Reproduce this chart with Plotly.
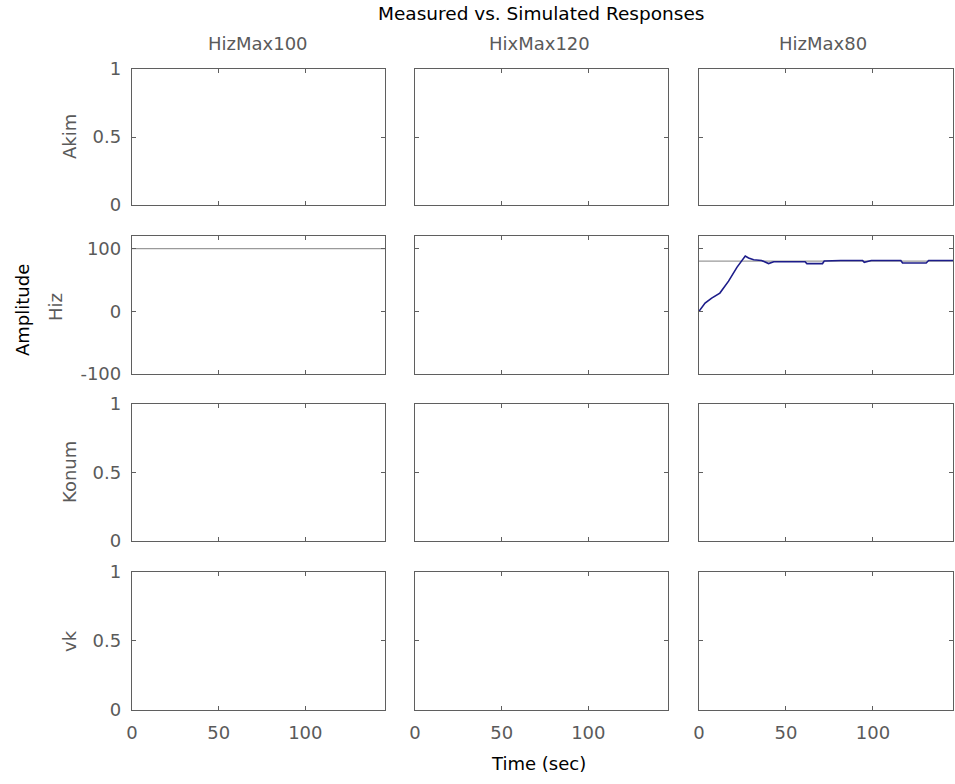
import plotly.graph_objects as go

# ---- data ----
col_titles = ["HizMax100", "HixMax120", "HizMax80"]
row_labels = ["Akim", "Hiz", "Konum", "vk"]
x_ticks = [0, 50, 100]
x_tick_text = ["0", "50", "100"]
x_range = [0, 146]
unit_ticks = [0, 0.5, 1]
unit_tick_text = ["0", "0.5", "1"]
hiz_ticks = [-100, 0, 100]
hiz_tick_text = ["-100", "0", "100"]
hiz_range = [-100, 120]

# measured (gray) reference lines in Hiz row
meas100_t = [0, 146]
meas100_y = [100, 100]
meas80_t = [0, 146]
meas80_y = [80, 80]

# simulated (blue) response, HizMax80 / Hiz
sim80_t = [0, 3.5, 7.3, 12, 17, 21.8, 26.6, 28.5, 31.4, 36, 40, 43, 61, 62, 71, 72,
           81.5, 94, 95, 99, 116, 117, 130.6, 132, 146]
sim80_y = [0, 13, 21, 29, 48, 70, 88, 85, 82, 81, 76, 79, 79, 76, 76, 80,
           81, 81, 78, 81, 81, 77, 77, 81, 81]

# ---- layout geometry ----
W, H = 955, 784
ML, MR, MT, MB = 132, 2, 69, 74
x_domains = [[0, 0.3082], [0.3447, 0.6529], [0.6906, 1.0]]
y_domains = [[0.7878, 1.0], [0.5242, 0.7395], [0.2637, 0.4774], [0, 0.2153]]

FONT = "DejaVu Sans"
GRAY_TXT = "#5a5a5a"
FRAME = "#5f5f5f"

fig = go.Figure()
layout = {}

def ax_name(kind, idx):
    return f"{kind}axis" if idx == 1 else f"{kind}axis{idx}"

def ref(kind, idx):
    return kind if idx == 1 else f"{kind}{idx}"

for r in range(4):
    for c in range(3):
        idx = r * 3 + c + 1
        is_hiz = (r == 1)
        layout[ax_name("x", idx)] = dict(
            domain=x_domains[c], anchor=ref("y", idx), range=x_range,
            tickvals=x_ticks, ticktext=x_tick_text,
            ticks="inside", ticklen=4, tickcolor=FRAME,
            showline=True, linecolor=FRAME, linewidth=1.3, mirror="ticks",
            showgrid=False, zeroline=False, showticklabels=(r == 3),
            tickfont=dict(family=FONT, size=18, color=GRAY_TXT),
            ticklabelstandoff=6,
        )
        layout[ax_name("y", idx)] = dict(
            domain=y_domains[r], anchor=ref("x", idx),
            range=hiz_range if is_hiz else [0, 1],
            tickvals=hiz_ticks if is_hiz else unit_ticks,
            ticktext=hiz_tick_text if is_hiz else unit_tick_text,
            ticks="inside", ticklen=4, tickcolor=FRAME,
            showline=True, linecolor=FRAME, linewidth=1.3, mirror="ticks",
            showgrid=False, zeroline=False, showticklabels=(c == 0),
            tickfont=dict(family=FONT, size=18, color=GRAY_TXT),
            ticklabelstandoff=6,
        )
        # empty trace so every subplot is drawn
        fig.add_trace(go.Scatter(x=[None], y=[None], mode="lines",
                                 xaxis=ref("x", idx), yaxis=ref("y", idx),
                                 showlegend=False, hoverinfo="skip"))

# Hiz row traces: row index 1 -> subplots 4,5,6
fig.add_trace(go.Scatter(x=meas100_t, y=meas100_y, mode="lines",
                         line=dict(color="#9a9a9a", width=1.2),
                         xaxis="x4", yaxis="y4", showlegend=False))
fig.add_trace(go.Scatter(x=meas80_t, y=meas80_y, mode="lines",
                         line=dict(color="#9a9a9a", width=1.2),
                         xaxis="x6", yaxis="y6", showlegend=False))
fig.add_trace(go.Scatter(x=sim80_t, y=sim80_y, mode="lines",
                         line=dict(color="#1c1c8a", width=1.6),
                         xaxis="x6", yaxis="y6", showlegend=False))

def px_to_paper_x(p):
    return (p - ML) / (W - ML - MR)

def px_to_paper_y(p):
    return (H - MB - p) / (H - MT - MB)

annotations = []
annotations.append(dict(text="Measured vs. Simulated Responses", x=px_to_paper_x(541),
                        y=px_to_paper_y(14), xref="paper", yref="paper",
                        showarrow=False, xanchor="center", yanchor="middle",
                        font=dict(family=FONT, size=18.5, color="black")))
col_centers = [258, 539, 823]
for t, cx in zip(col_titles, col_centers):
    annotations.append(dict(text=t, x=px_to_paper_x(cx), y=px_to_paper_y(44),
                            xref="paper", yref="paper", showarrow=False,
                            xanchor="center", yanchor="middle",
                            font=dict(family=FONT, size=18, color=GRAY_TXT)))
row_centers = [137, 307, 472, 641]
row_x = [69, 55, 69, 69]
for t, cy, cx in zip(row_labels, row_centers, row_x):
    annotations.append(dict(text=t, x=px_to_paper_x(cx), y=px_to_paper_y(cy),
                            xref="paper", yref="paper", showarrow=False,
                            xanchor="center", yanchor="middle", textangle=-90,
                            font=dict(family=FONT, size=18, color=GRAY_TXT)))
annotations.append(dict(text="Amplitude", x=px_to_paper_x(22), y=px_to_paper_y(310),
                        xref="paper", yref="paper", showarrow=False,
                        xanchor="center", yanchor="middle", textangle=-90,
                        font=dict(family=FONT, size=18, color="black")))
annotations.append(dict(text="Time (sec)", x=px_to_paper_x(538), y=px_to_paper_y(764),
                        xref="paper", yref="paper", showarrow=False,
                        xanchor="center", yanchor="middle",
                        font=dict(family=FONT, size=18, color="black")))

fig.update_layout(
    width=W, height=H,
    margin=dict(l=ML, r=MR, t=MT, b=MB, pad=0),
    paper_bgcolor="white", plot_bgcolor="white",
    showlegend=False,
    annotations=annotations,
    **layout,
)

fig.write_html("out.html")
